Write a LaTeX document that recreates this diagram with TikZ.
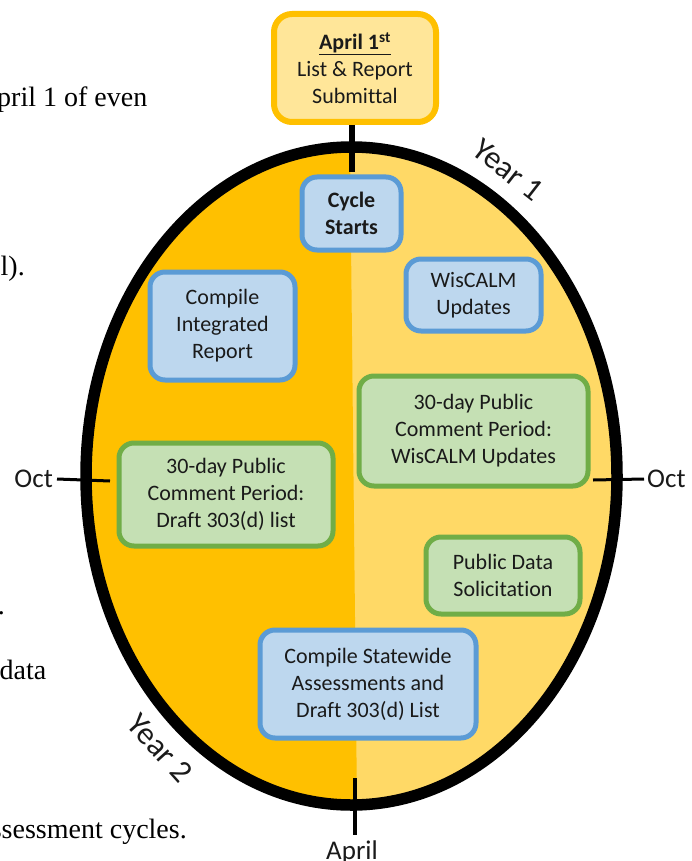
\documentclass[tikz,border=0pt]{standalone}
\usepackage{fontspec}
\setmainfont{Carlito}[Ligatures=NoCommon]
\newfontfamily\bodyserif{Liberation Serif}
\definecolor{golddark}{HTML}{FFC000}
\definecolor{goldlight}{HTML}{FFD966}
\definecolor{aprfill}{HTML}{FFE699}
\definecolor{bluefill}{HTML}{BDD7EE}
\definecolor{blueline}{HTML}{5B9BD5}
\definecolor{greenfill}{HTML}{C5E0B4}
\definecolor{greenline}{HTML}{70AD47}
\definecolor{ink}{HTML}{1A1A1A}
\tikzset{
  stagebox/.style={rounded corners=15pt, line width=5pt, inner sep=0pt, align=center,
    text=ink, font=\fontsize{22}{27}\selectfont},
  bluebox/.style={stagebox, draw=blueline, fill=bluefill},
  greenbox/.style={stagebox, draw=greenline, fill=greenfill},
  goldbox/.style={stagebox, rounded corners=18pt, line width=6pt, draw=golddark, fill=aprfill},
  marklabel/.style={inner sep=0pt, text=ink, font=\fontsize{27}{32}\selectfont},
  yearlabel/.style={inner sep=0pt, text=ink, font=\fontsize{32}{38}\selectfont},
  bodytext/.style={inner sep=0pt, anchor=base east, text=black, font=\bodyserif\fontsize{28}{32}\selectfont},
  tick/.style={draw=black, line width=3pt},
}
\begin{document}
\begin{tikzpicture}[x=1pt, y=-1pt]
\useasboundingbox (0,0) rectangle (691,861);
\clip (0,0) rectangle (691,861);

% surrounding document text
\node[bodytext] (t1) at (147.5,107) {pril 1 of even};
\node[bodytext] (t2) at (25,275) {l).};
\node[bodytext] (t3) at (5,614) {.};
\node[bodytext] (t4) at (46.5,679) {data};
\node[bodytext] (t5) at (187,838) {ssessment cycles.};

% two-year cycle: left half year 2, right half year 1
\begin{scope}
  \clip (351.5,476) ellipse [x radius=265.5pt, y radius=329pt];
  \fill[goldlight] (0,0) rectangle (691,861);
  \fill[golddark] (0,0) -- (348.4,0) -- (357.6,861) -- (0,861) -- cycle;
\end{scope}
\draw[line width=11.5pt] (351.5,476) ellipse [x radius=265.5pt, y radius=329pt];

% month markers
\node[marklabel, anchor=east] (octL) at (53,479) {Oct};
\coordinate (octLin) at (110,481);
\draw[tick] (octL.east) ++(4pt,0) -- (octLin);
\node[marklabel, anchor=west] (octR) at (647,479) {Oct};
\coordinate (octRin) at (593,480);
\draw[tick] (octR.west) ++(-3pt,0) -- (octRin);
\node[marklabel, anchor=base] (apr) at (352,859.5) {April};
\coordinate (aprIn) at (355,778);
\coordinate (aprOut) at (355,835);
\draw[line width=4pt] (aprIn) -- (aprOut);

\node[yearlabel, rotate=-38] (y1) at (508,170) {Year 1};
\node[yearlabel, rotate=-48] (y2) at (160,748) {Year 2};

% stages
\node[goldbox, minimum width=162pt, minimum height=108pt] (submit) at (355,68)
  {\textbf{\underline{April 1\textsuperscript{st}}}\\List \& Report\\Submittal};
\node[bluebox, minimum width=99pt, minimum height=73pt] (start) at (351.5,213.5)
  {\textbf{Cycle}\\\textbf{Starts}};
\draw[line width=6pt, shorten >=2.5pt] (submit.south -| start.north) -- (start.north);
\node[bluebox, minimum width=145pt, minimum height=108pt] (integ) at (222.5,326)
  {Compile\\Integrated\\Report};
\node[bluebox, minimum width=135pt, minimum height=72pt] (wis) at (473.5,295)
  {WisCALM\\Updates};
\node[greenbox, minimum width=229pt, minimum height=110pt] (pcw) at (473.5,431)
  {30-day Public\\Comment Period:\\WisCALM Updates};
\node[greenbox, minimum width=214pt, minimum height=103pt] (pcd) at (226,494.5)
  {30-day Public\\Comment Period:\\Draft 303(d) list};
\node[greenbox, minimum width=154pt, minimum height=77pt] (pds) at (503,575.5)
  {Public Data\\Solicitation};
\node[bluebox, minimum width=216pt, minimum height=108pt] (csa) at (368,684)
  {Compile Statewide\\Assessments and\\Draft 303(d) List};
\end{tikzpicture}
\end{document}
